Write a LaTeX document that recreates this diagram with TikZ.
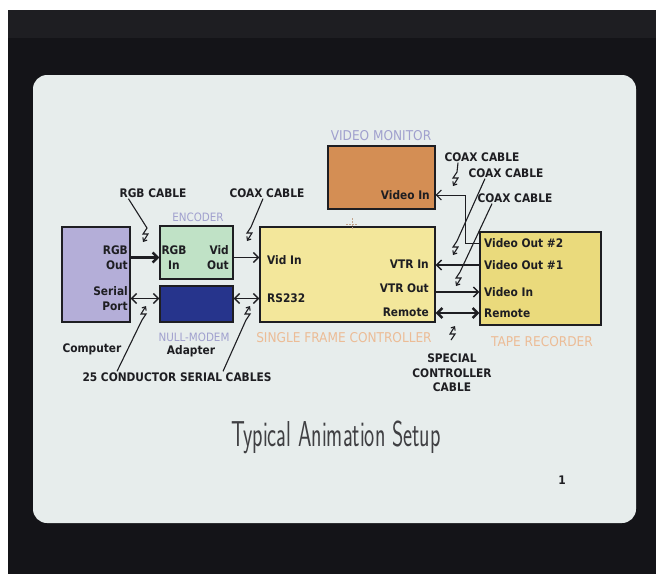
\documentclass[tikz,border=0pt]{standalone}
\usepackage{fontspec}
\usepackage{tikz}
\usetikzlibrary{arrows.meta, calc}
\newfontfamily\condfont{DejaVu Sans Condensed}[BoldFont={DejaVu Sans Condensed Bold}]
\definecolor{ScreenGray}{RGB}{231,237,236}
\definecolor{Bezel}{RGB}{20,20,24}
\definecolor{BezelTop}{RGB}{30,30,34}
\definecolor{Lavender}{RGB}{180,174,216}
\definecolor{MintGreen}{RGB}{192,226,198}
\definecolor{ModemBlue}{RGB}{38,52,140}
\definecolor{PaleYellow}{RGB}{243,231,155}
\definecolor{TapeYellow}{RGB}{234,218,124}
\definecolor{MonOrange}{RGB}{212,142,84}
\definecolor{TagLilac}{RGB}{160,160,206}
\definecolor{TagPeach}{RGB}{236,188,150}
\definecolor{Ink}{RGB}{30,30,34}

\begin{document}
\begin{tikzpicture}[x=1pt, y=-1pt,
  unit/.style={draw=Ink, line width=1.4pt, inner sep=0pt},
  lbl/.style={font=\condfont\bfseries\fontsize{11.8}{14.5}\selectfont,
              text=Ink, inner sep=1pt},
  tag/.style={font=\condfont\fontsize{13.5}{15}\selectfont, inner sep=1pt},
  smalltag/.style={font=\condfont\fontsize{11.5}{14}\selectfont, inner sep=1pt},
  cab/.style={draw=Ink, line width=1.3pt, -{Straight Barb[length=5pt,width=10pt]}},
  cab2/.style={cab, {Straight Barb[length=5pt,width=10pt]}-{Straight Barb[length=5pt,width=10pt]}},
  lead/.style={draw=Ink, line width=1.1pt, -{Straight Barb[length=3pt,width=5pt]}},
  zd/.style={insert path={-- ++(-4,6) -- ++(5,0) -- ++(-5,8)}},
  zu/.style={insert path={-- ++(4,-6) -- ++(-5,0) -- ++(5,-8)}},
]
\useasboundingbox (0,0) rectangle (656,574);
% Monitor frame and screen
\fill[Bezel] (8,10) rectangle (656,574);
\fill[BezelTop] (8,10) rectangle (656,38);
\fill[ScreenGray, rounded corners=14pt] (33,75) rectangle (636,523);

% Units
\node[unit, fill=Lavender, minimum width=68pt, minimum height=95pt]   (comp)  at (96,274.5)  {};
\node[unit, fill=MintGreen, minimum width=73pt, minimum height=53pt]  (enc)   at (196.5,252.5) {};
\node[unit, fill=ModemBlue, minimum width=73pt, minimum height=36pt]  (nullm) at (196.5,304) {};
\node[unit, fill=PaleYellow, minimum width=175pt, minimum height=95pt] (sfc)  at (347.5,274.5) {};
\node[unit, fill=MonOrange, minimum width=107pt, minimum height=63pt] (mon)   at (381.5,177.5) {};
\node[unit, fill=TapeYellow, minimum width=121pt, minimum height=93pt] (tape) at (540.5,278.5) {};

% Port labels
\node[lbl, anchor=east, align=right]  (rgbout)  at (129,257.5) {RGB\\Out};
\node[lbl, anchor=east, align=right]  (serport) at (129,298.5) {Serial\\Port};
\node[lbl, align=center]              (rgbin)   at (174,257.5) {RGB\\In};
\node[lbl, anchor=east, align=right]  (vidout)  at (230,257.5) {Vid\\Out};
\node[lbl, anchor=west] (vidin)  at (266,260) {Vid In};
\node[lbl, anchor=west] (rs232)  at (266,298) {RS232};
\node[lbl, anchor=east] (vtrin)  at (430,264) {VTR In};
\node[lbl, anchor=east] (vtrout) at (430,288) {VTR Out};
\node[lbl, anchor=east] (remA)   at (430,312) {Remote};
\node[lbl, anchor=east] (monin)  at (431,195) {Video In};
\node[lbl, anchor=west] (vo2)    at (483,243) {Video Out \#2};
\node[lbl, anchor=west] (vo1)    at (483,265) {Video Out \#1};
\node[lbl, anchor=west] (tvin)   at (483,292) {Video In};
\node[lbl, anchor=west] (remB)   at (483,313) {Remote};

% Unit names
\node[smalltag, text=TagLilac] (enctag)  at (198,217) {ENCODER};
\node[smalltag, text=TagLilac] (nulltag) at (194,337) {NULL-MODEM};
\node[lbl] (adapt) at (191,351) {Adapter};
\node[lbl] (comptag) at (92,349) {Computer};
\node[tag, text=TagLilac] (montag)  at (381,136) {VIDEO MONITOR};
\node[tag, text=TagPeach] (sfctag)  at (344,338) {SINGLE FRAME CONTROLLER};
\node[tag, text=TagPeach] (tapetag) at (542,342) {TAPE RECORDER};

% Cable labels
\node[lbl] (rgbcab) at (153,193) {RGB CABLE};
\node[lbl] (coaxa)  at (267,193) {COAX CABLE};
\node[lbl] (coaxb)  at (482,157) {COAX CABLE};
\node[lbl] (coaxc)  at (506,173) {COAX CABLE};
\node[lbl] (coaxd)  at (515,198) {COAX CABLE};
\node[lbl] (sercab) at (177,377) {25 CONDUCTOR SERIAL CABLES};
\node[lbl, align=center] (spccab) at (452,373) {SPECIAL\\CONTROLLER\\CABLE};

% Cables
\draw[cab, line width=2.4pt] (comp.east |- rgbout) -- (enc.west |- rgbout);
\draw[cab] (enc.east |- vidout) -- (sfc.west |- vidout);
\draw[cab2] (comp.east |- serport) -- (nullm.west |- serport);
\draw[cab2] (nullm.east |- serport) -- (sfc.west |- serport);
\coordinate (bend) at (465,0);
\draw[cab, line width=1pt] (tape.west |- vo2) -| (bend |- monin) -- (mon.east |- monin);
\draw[cab] (tape.west |- vo1) -- (sfc.east |- vo1);
\draw[cab] (sfc.east |- tvin) -- (tape.west |- tvin);
\draw[cab2, line width=2.4pt] (sfc.east |- remB) -- (tape.west |- remB);

% Leaders with zigzag marks
\coordinate (zrgb)  at (147,228);
\coordinate (zcxa)  at (251,227);
\coordinate (zsera) at (142,320);
\coordinate (zserb) at (246,320);
\coordinate (zcxb)  at (457,172);
\coordinate (zcxc)  at (457,241);
\coordinate (zcxd)  at (460,272);
\coordinate (zspc)  at (451,340);
\draw[lead] ([xshift=10pt]rgbcab.south west) -- (zrgb) [zd];
\draw[lead] ([xshift=-4pt]coaxa.south) -- (zcxa) [zd];
\draw[lead] ([xshift=-60pt]sercab.north) -- (zsera) [zu];
\draw[lead] ([xshift=46pt]sercab.north) -- (zserb) [zu];
\draw[lead] ([xshift=-24pt]coaxb.south) -- (zcxb) [zd];
\draw[lead] ([xshift=-21pt]coaxc.south) -- (zcxc) [zd];
\draw[lead] ([xshift=-23pt]coaxd.south) -- (zcxd) [zd];
\draw[lead] (zspc) [zu];

% Cursor mark
\draw[TagPeach!60!gray, line width=1pt, dash pattern=on 1.5pt off 1.5pt]
  (346,224) -- (358,224) (352,218) -- (352,230);

% Title and page number
\node[font=\sffamily\fontsize{36}{36}\selectfont, text=Ink!85] (title) at (336,437)
  {\scalebox{0.6}[1]{Typical Animation Setup}};
\node[lbl] (pgno) at (562,480) {1};
\end{tikzpicture}
\end{document}
